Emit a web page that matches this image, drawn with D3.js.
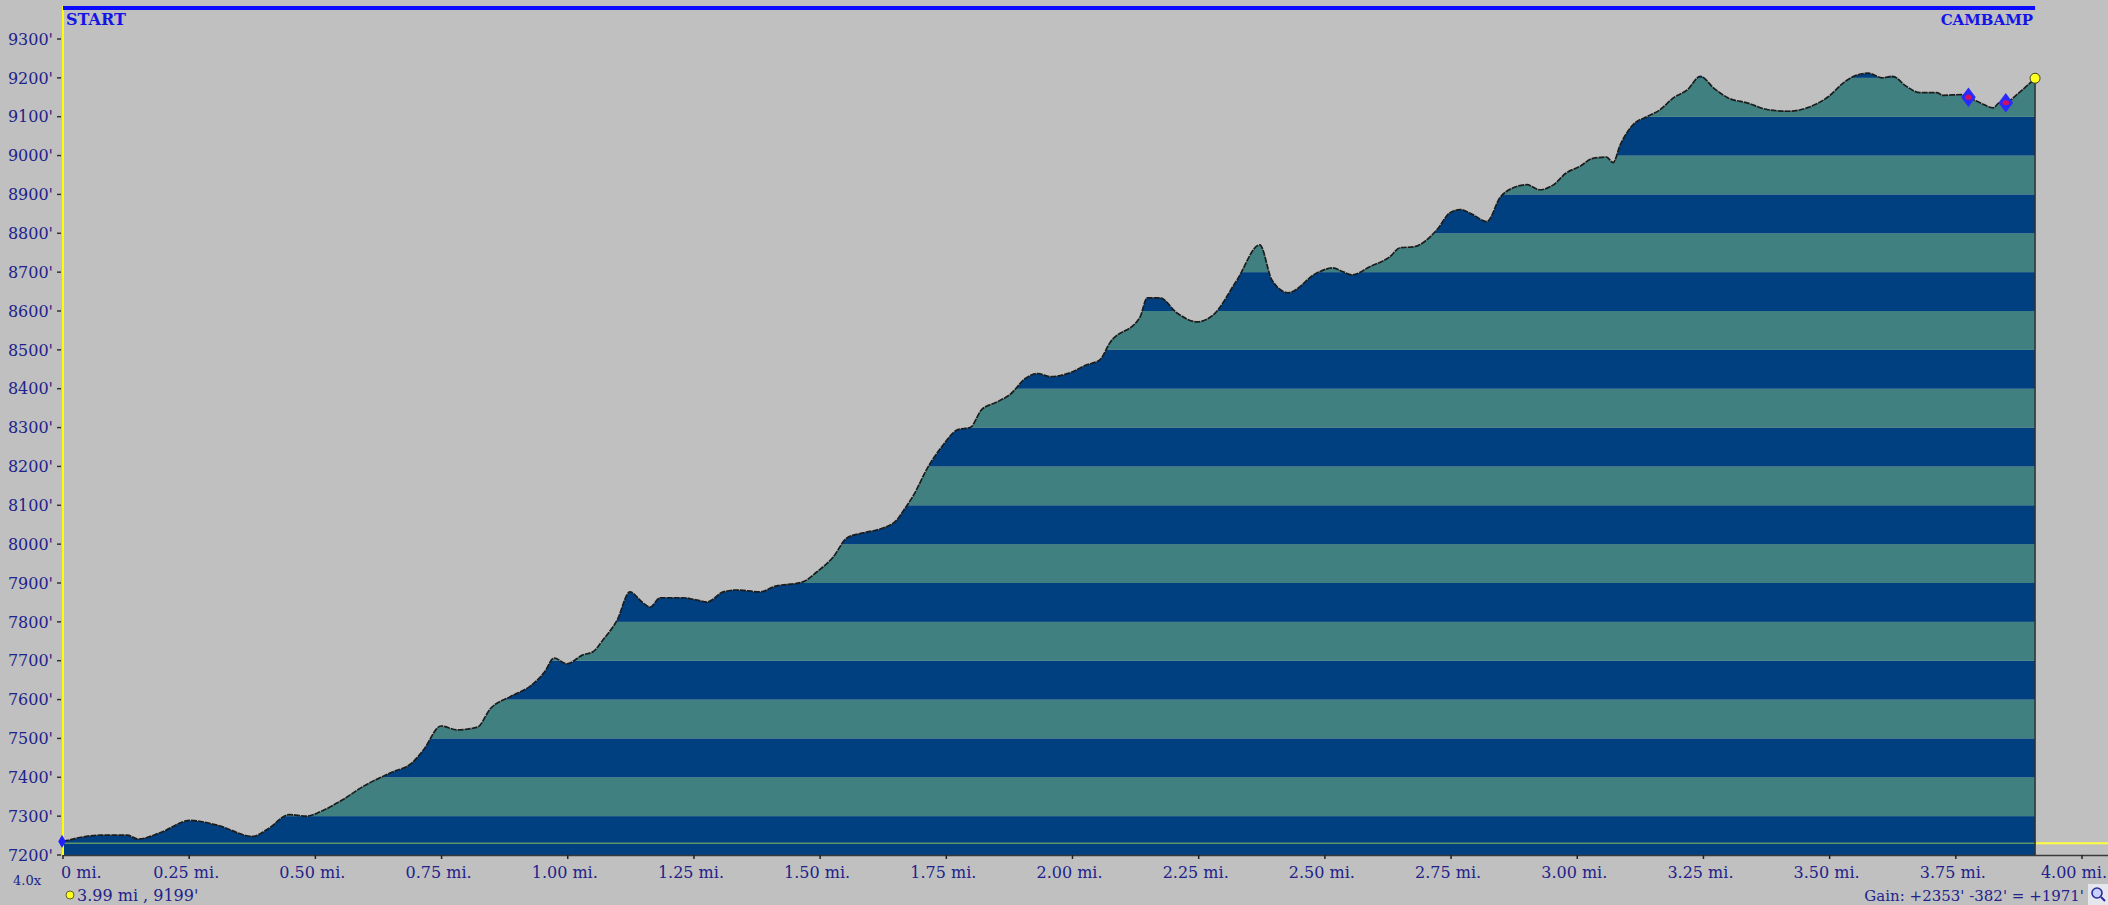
<!DOCTYPE html>
<html lang="en">
<head>
    <meta charset="UTF-8">
    <title>Elevation Profile</title>
    <script src="https://cdn.jsdelivr.net/npm/d3@7"></script>
    <style>
        body { margin: 0; background: #c0c0c0; overflow: hidden; }
        svg { display: block; }
        .axis-label { font-family: "DejaVu Serif", serif; font-size: 16px; fill: #22228a; }
        .flag { font-family: "DejaVu Serif", serif; font-weight: bold; fill: #1414e6; }
    </style>
</head>
<body>
<script>
    /******* DATA *******/
    // distance along trail (mi) and elevation (ft)
    const dist = [0.000, 0.074, 0.127, 0.149, 0.192, 0.252, 0.305, 0.376, 0.408, 0.448,
        0.482, 0.514, 0.554, 0.594, 0.648, 0.693, 0.714, 0.749, 0.781, 0.821,
        0.847, 0.887, 0.927, 0.954, 0.973, 0.998, 1.030, 1.050, 1.070, 1.098,
        1.123, 1.149, 1.163, 1.183, 1.228, 1.256, 1.276, 1.308, 1.335, 1.381,
        1.407, 1.466, 1.494, 1.526, 1.553, 1.585, 1.619, 1.652, 1.665, 1.686,
        1.713, 1.740, 1.772, 1.798, 1.820, 1.851, 1.878, 1.905, 1.931, 1.956,
        1.993, 2.027, 2.054, 2.074, 2.134, 2.148, 2.173, 2.207, 2.247, 2.278,
        2.326, 2.371, 2.395, 2.427, 2.484, 2.516, 2.536, 2.554, 2.589, 2.629,
        2.649, 2.675, 2.722, 2.748, 2.768, 2.793, 2.821, 2.847, 2.873, 2.900,
        2.926, 2.952, 2.978, 3.005, 3.031, 3.058, 3.071, 3.085, 3.111, 3.138,
        3.164, 3.191, 3.218, 3.244, 3.271, 3.298, 3.338, 3.378, 3.418, 3.458,
        3.498, 3.530, 3.556, 3.577, 3.604, 3.625, 3.650, 3.679, 3.712, 3.725,
        3.762, 3.775, 3.798, 3.824, 3.837, 3.849, 3.871, 3.907];
    const elev = [7235, 7251, 7251, 7241, 7257, 7289, 7277, 7248, 7269, 7304,
        7300, 7314, 7342, 7376, 7411, 7439, 7470, 7532, 7522, 7529,
        7577, 7608, 7636, 7671, 7707, 7692, 7715, 7723, 7754, 7805,
        7877, 7849, 7838, 7862, 7862, 7856, 7851, 7877, 7882, 7877,
        7890, 7903, 7929, 7967, 8016, 8029, 8039, 8062, 8086, 8128,
        8197, 8249, 8294, 8301, 8346, 8366, 8387, 8425, 8439, 8431,
        8440, 8461, 8474, 8518, 8585, 8634, 8634, 8595, 8572, 8589,
        8680, 8770, 8680, 8647, 8698, 8711, 8701, 8693, 8714, 8740,
        8763, 8765, 8809, 8853, 8861, 8848, 8830, 8892, 8917, 8925,
        8912, 8924, 8955, 8972, 8993, 8996, 8982, 9027, 9080, 9100,
        9118, 9149, 9169, 9204, 9173, 9149, 9135, 9118, 9114, 9124,
        9152, 9190, 9208, 9212, 9200, 9204, 9180, 9162, 9162, 9155,
        9157, 9150, 9136, 9123, 9136, 9136, 9157, 9199];

    // waypoint markers (indices into the profile)
    const waypointIdx = [121, 125];
    const refElev = 7230;

    // axis ticks
    const elevTicks = d3.range(7200, 9301, 100);
    const distTicks = [0, 0.25, 0.5, 0.75, 1, 1.25, 1.5, 1.75, 2, 2.25, 2.5, 2.75, 3, 3.25, 3.5, 3.75, 4];
    const distLabels = ["0 mi.", "0.25 mi.", "0.50 mi.", "0.75 mi.", "1.00 mi.", "1.25 mi.", "1.50 mi.",
        "1.75 mi.", "2.00 mi.", "2.25 mi.", "2.50 mi.", "2.75 mi.", "3.00 mi.", "3.25 mi.",
        "3.50 mi.", "3.75 mi.", "4.00 mi."];

    const startName = "START";
    const endName = "CAMBAMP";
    const cursorText = "3.99 mi , 9199'";
    const gainText = "Gain: +2353' -382' = +1971'";
    const zoomText = "4.0x";

    /******* STYLING/FORMATTING *******/
    const width = 2108;
    const height = 905;
    const svg = d3.select("body").append("svg")
        .attr("width", width)
        .attr("height", height);

    const margins = { top: 39, bottom: 50, left: 63, right: 26 };

    const darkBand = "#004080";
    const lightBand = "#408080";

    const profile = dist.map((d, i) => ({ d: d, e: elev[i] }));

    // scales
    const xScale = d3.scaleLinear()
        .domain([0, 4])
        .range([margins.left, width - margins.right]);
    const yScale = d3.scaleLinear()
        .domain([7200, 9300])
        .range([height - margins.bottom, margins.top]);

    const x0 = xScale(0);
    const xEnd = xScale(dist[dist.length - 1]);
    const yBase = yScale(7200);

    // background
    svg.append("rect")
        .attr("width", width).attr("height", height)
        .attr("fill", "#c0c0c0");

    /******* PROFILE *******/
    const areaGen = d3.area()
        .x(p => xScale(p.d))
        .y0(yBase)
        .y1(p => yScale(p.e))
        .curve(d3.curveMonotoneX);
    const lineGen = d3.line()
        .x(p => xScale(p.d))
        .y(p => yScale(p.e))
        .curve(d3.curveMonotoneX);

    svg.append("clipPath")
        .attr("id", "profileClip")
        .append("path")
        .attr("d", areaGen(profile));

    // striped bands, 100 ft each
    svg.append("g")
        .attr("clip-path", "url(#profileClip)")
        .selectAll("rect")
        .data(elevTicks.slice(0, -1))
        .enter()
        .append("rect")
        .attr("x", x0)
        .attr("width", xEnd - x0)
        .attr("y", d => yScale(d + 100))
        .attr("height", d => yScale(d) - yScale(d + 100))
        .attr("fill", d => ((d / 100) % 2 === 0 ? darkBand : lightBand));

    // reference elevation line (greenish inside, yellow outside)
    svg.append("line")
        .attr("x1", x0).attr("x2", xEnd)
        .attr("y1", yScale(refElev)).attr("y2", yScale(refElev))
        .attr("stroke", "#5f9468").attr("stroke-width", 1.5);
    svg.append("line")
        .attr("x1", xEnd).attr("x2", width)
        .attr("y1", yScale(refElev)).attr("y2", yScale(refElev))
        .attr("stroke", "#ffff40").attr("stroke-width", 2);

    // outline
    svg.append("path")
        .attr("d", lineGen(profile))
        .attr("fill", "none")
        .attr("stroke", "#1c1c1c")
        .attr("stroke-width", 1.7)
        .attr("stroke-dasharray", "6,1");
    svg.append("line")
        .attr("x1", xEnd).attr("x2", xEnd)
        .attr("y1", yScale(elev[elev.length - 1])).attr("y2", yBase)
        .attr("stroke", "#303030").attr("stroke-width", 1.5);

    /******* AXES *******/
    // bottom axis line
    svg.append("line")
        .attr("x1", x0).attr("x2", width)
        .attr("y1", yBase + 0.5).attr("y2", yBase + 0.5)
        .attr("stroke", "#3a3a3a").attr("stroke-width", 1.5);

    // y ticks and labels
    const yAxis = svg.append("g");
    yAxis.selectAll("line")
        .data(elevTicks)
        .enter()
        .append("line")
        .attr("x1", x0 - 6).attr("x2", x0 - 2)
        .attr("y1", d => yScale(d)).attr("y2", d => yScale(d))
        .attr("stroke", "#333").attr("stroke-width", 1.5);
    yAxis.selectAll("text")
        .data(elevTicks)
        .enter()
        .append("text")
        .attr("class", "axis-label")
        .attr("x", 53)
        .attr("y", d => yScale(d))
        .attr("dy", "0.36em")
        .attr("text-anchor", "end")
        .text(d => d + "'");

    // x ticks and labels
    const xAxis = svg.append("g");
    xAxis.selectAll("line")
        .data(distTicks)
        .enter()
        .append("line")
        .attr("x1", d => xScale(d)).attr("x2", d => xScale(d))
        .attr("y1", yBase).attr("y2", yBase + 4)
        .attr("stroke", "#222").attr("stroke-width", 1.5);
    const lastTick = distTicks.length - 1;
    xAxis.selectAll("text")
        .data(distTicks)
        .enter()
        .append("text")
        .attr("class", "axis-label")
        .attr("x", (d, i) => (i === 0 ? xScale(d) - 2 : i === lastTick ? width - 1 : xScale(d) - 3))
        .attr("y", yBase + 23)
        .attr("text-anchor", (d, i) => (i === 0 ? "start" : i === lastTick ? "end" : "middle"))
        .text((d, i) => distLabels[i]);

    // yellow vertical axis
    svg.append("line")
        .attr("x1", x0).attr("x2", x0)
        .attr("y1", 6).attr("y2", yBase)
        .attr("stroke", "#ffff00").attr("stroke-width", 2);

    /******* MARKERS *******/
    const diamond = d3.symbol().type(d3.symbolDiamond).size(110);
    // start marker
    svg.append("path")
        .attr("d", d3.symbol().type(d3.symbolDiamond).size(50)())
        .attr("transform", `translate(${x0 - 1},${yScale(elev[0])})`)
        .attr("fill", "#2020ff");
    // waypoints
    svg.selectAll(".wp")
        .data(waypointIdx)
        .enter()
        .append("g")
        .attr("class", "wp")
        .attr("transform", i => `translate(${xScale(dist[i])},${yScale(elev[i])}) scale(1.3,1)`)
        .each(function () {
            d3.select(this).append("path").attr("d", diamond()).attr("fill", "#2a2aff");
            d3.select(this).append("circle").attr("r", 2.5).attr("fill", "#d0105a");
        });
    // end point
    svg.append("circle")
        .attr("cx", xEnd)
        .attr("cy", yScale(elev[elev.length - 1]))
        .attr("r", 5)
        .attr("fill", "#ffff20")
        .attr("stroke", "#404020")
        .attr("stroke-width", 1);

    /******* TOP FLAGS *******/
    svg.append("line")
        .attr("x1", x0).attr("x2", xEnd)
        .attr("y1", 8).attr("y2", 8)
        .attr("stroke", "#0a0aff").attr("stroke-width", 4);
    svg.append("text")
        .attr("class", "flag")
        .attr("x", 66).attr("y", 25)
        .style("font-size", "16px")
        .text(startName);
    svg.append("text")
        .attr("class", "flag")
        .attr("x", xEnd - 2).attr("y", 25)
        .attr("text-anchor", "end")
        .style("font-size", "15px")
        .text(endName);

    /******* STATUS TEXTS *******/
    svg.append("text")
        .attr("class", "axis-label")
        .attr("x", 13).attr("y", 885)
        .style("font-size", "13px")
        .text(zoomText);
    svg.append("circle")
        .attr("cx", 70).attr("cy", 895).attr("r", 4)
        .attr("fill", "#ffff20").attr("stroke", "#606020");
    svg.append("text")
        .attr("class", "axis-label")
        .attr("x", 77).attr("y", 901)
        .text(cursorText);
    svg.append("text")
        .attr("class", "axis-label")
        .attr("x", 2084).attr("y", 901)
        .attr("text-anchor", "end")
        .style("font-size", "15px")
        .text(gainText);

    // magnifier icon
    const icon = svg.append("g").attr("transform", "translate(2088,884)");
    icon.append("rect").attr("width", 20).attr("height", 21).attr("fill", "#e6e6ee");
    icon.append("circle").attr("cx", 9).attr("cy", 9).attr("r", 5)
        .attr("fill", "#c8d0ff").attr("stroke", "#2a2a9a").attr("stroke-width", 1.6);
    icon.append("line").attr("x1", 13).attr("y1", 13).attr("x2", 17).attr("y2", 17)
        .attr("stroke", "#2a2a9a").attr("stroke-width", 2);
</script>
</body>
</html>
